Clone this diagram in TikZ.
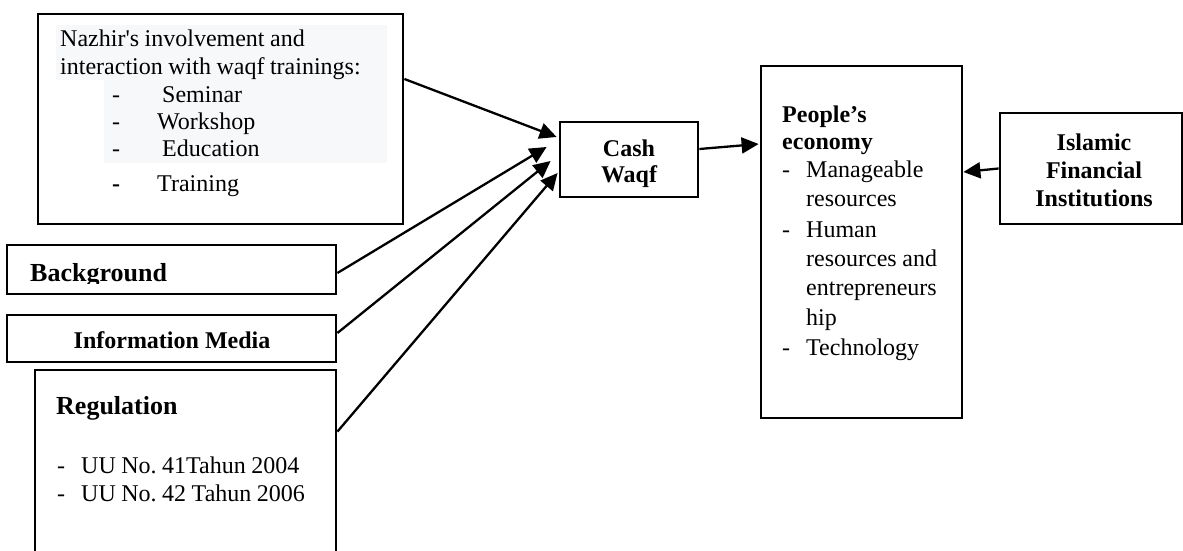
\documentclass[tikz,border=0pt]{standalone}
\usepackage{fontspec}
\setmainfont{Liberation Serif}
\usetikzlibrary{arrows.meta,calc}
\definecolor{lightshade}{RGB}{247,248,250}
\frenchspacing
% tighter word space inside ragged node text
\newcommand\wsp{\spaceskip=0.23em\xspaceskip=0.23em\relax}
\begin{document}
\begin{tikzpicture}[x=1pt,y=-1pt,
  box/.style={draw,line width=2.8pt,inner sep=0pt},
  link/.style={line width=2.3pt,-{Triangle[length=17pt,width=16pt]}},
  txt/.style={inner sep=0pt,font=\fontsize{24}{28}\selectfont,align=left,anchor=base west},
  btxt/.style={inner sep=0pt,font=\fontsize{24}{27}\selectfont\bfseries,align=center,anchor=base},
  title/.style={inner sep=0pt,font=\fontsize{26}{30}\selectfont\bfseries,anchor=base west},
]
\useasboundingbox (0,0) rectangle (1183,551);
\clip (0,0) rectangle (1183,551);

% boxes
\node[box,minimum width=365pt,minimum height=210pt] (naz)    at (220.5,119)   {};
\node[box,minimum width=329pt,minimum height=49pt]  (bg)     at (171.5,269.5) {};
\node[box,minimum width=329pt,minimum height=47pt]  (info)   at (171.5,338.5) {};
\node[box,minimum width=301pt,minimum height=190pt] (reg)    at (185.5,465)   {};
\node[box,minimum width=138pt,minimum height=75pt]  (cash)   at (629,159.5)   {};
\node[box,minimum width=201pt,minimum height=352pt] (people) at (861.5,242)   {};
\node[box,minimum width=182pt,minimum height=111pt] (isl)    at (1091,168.5)  {};

% highlighted text area in the trainings box
\fill[lightshade] (56,25) rectangle (387,80);
\fill[lightshade] (104,80) rectangle (387,163);

% trainings
\node[txt,text width=330pt,font=\fontsize{24}{27.5}\selectfont] (naztext) at (60,47)
  {\wsp Nazhir\textquotesingle s involvement and\\
   interaction with waqf trainings:\\
   \hspace*{52pt}\makebox[50pt][l]{-}Seminar\\
   \hspace*{52pt}\makebox[45pt][l]{-}Workshop\\
   \hspace*{52pt}\makebox[50pt][l]{-}Education\\[7pt]
   \hspace*{52pt}\makebox[45pt][l]{\textbf{-}}Training};

% background (text cut by the box's lower part)
\begin{scope}
  \clip (0,0) rectangle (1183,283.5);
  \node[title] (bgtext) at (30,281) {Background};
\end{scope}

% information media
\node[btxt] (infotext) at (172,348) {Information Media};

% regulation
\node[title] (regtitle) at (56,414) {Regulation};
\node[txt,text width=270pt] (reglist) at (57,473)
  {\wsp\makebox[24pt][l]{-}UU No. 41Tahun 2004\\
   \makebox[24pt][l]{-}UU No. 42 Tahun 2006};

% cash waqf
\node[btxt,text width=120pt,font=\fontsize{24}{26}\selectfont\bfseries] (cashtext) at (629,156) {Cash\\Waqf};

% people's economy
\node[txt,text width=185pt] (peopletext) at (782,122)
  {\wsp\textbf{People’s}\\[-1pt]
   \textbf{economy}\\
   \makebox[24pt][l]{-}Manageable\\[1pt]
   \hspace*{24pt}resources\\[3pt]
   \makebox[24pt][l]{-}Human\\[1pt]
   \hspace*{24pt}resources and\\[1pt]
   \hspace*{24pt}entrepreneurs\\[2pt]
   \hspace*{24pt}hip\\[2pt]
   \makebox[24pt][l]{-}Technology};

% islamic financial institutions
\node[btxt,text width=170pt,font=\fontsize{24}{28}\selectfont\bfseries] (isltext) at (1094,150)
  {Islamic\\Financial\\Institutions};

% connectors
\draw[link] ($(naz.east)+(0,-40)$) -- ($(cash.west)+(-2,-22.5)$);
\draw[link] ($(bg.east)+(0,3.5)$) -- ($(cash.west)+(-12,-12.5)$);
\draw[link] ($(info.east)+(0,-5.5)$) -- ($(cash.west)+(-8,1.5)$);
\draw[link] ($(reg.north east)+(0,63)$) -- ($(cash.west)+(-1,13.5)$);
\draw[link] ($(cash.east)+(0,-10.5)$) -- ($(people.west)+(-1,-98)$);
\draw[link] (isl.west) -- ($(people.east)+(0,-70)$);
\end{tikzpicture}
\end{document}
